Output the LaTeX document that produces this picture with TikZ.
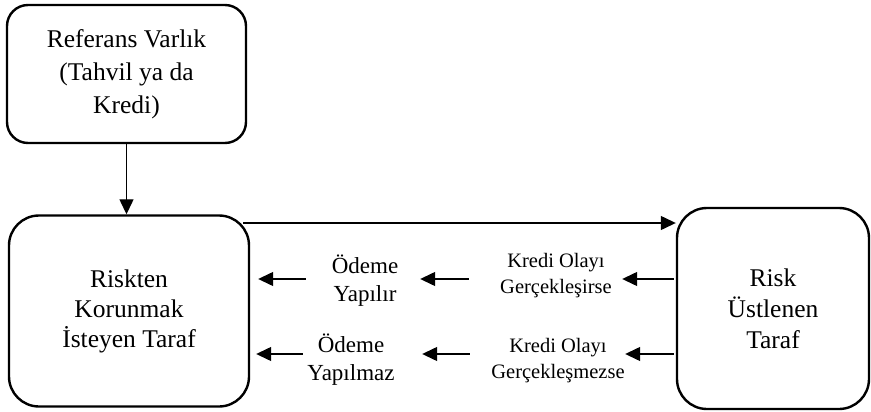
\documentclass[tikz,border=0pt]{standalone}
\usepackage{fontspec}
\setmainfont{Liberation Serif}
\usetikzlibrary{arrows.meta}

\begin{document}
\begin{tikzpicture}[x=1pt, y=-1pt,
        box/.style={draw, line width=2.4pt, rounded corners=30pt, align=center, inner sep=0pt},
        lbl/.style={align=center, inner sep=0pt},
        flow/.style={-{Triangle[length=15pt, width=14pt]}, line width=1.3pt}]
        \useasboundingbox (0,0) rectangle (871,412);

        % Boxes
        \node (tbox) at (126.5,74) [box, rounded corners=21pt, minimum width=239pt, minimum height=138pt,
            font=\fontsize{25.5}{33}\selectfont] {Referans Varlık\\(Tahvil ya da\\Kredi)};
        \node (lbox) at (129,311) [box, minimum width=240pt, minimum height=191pt,
            font=\fontsize{25.5}{30}\selectfont] {Riskten\\Korunmak\\İsteyen Taraf};
        \node (rbox) at (773,308.5) [box, minimum width=192pt, minimum height=201pt,
            font=\fontsize{25.5}{31}\selectfont] {Risk\\Üstlenen\\Taraf};

        % Labels between the parties
        \node (kredi1) at (556,276) [lbl, minimum width=136pt, font=\fontsize{20.5}{26}\selectfont] {Kredi Olayı\\Gerçekleşirse};
        \node (kredi2) at (558,361) [lbl, minimum width=136pt, font=\fontsize{20.5}{26}\selectfont] {Kredi Olayı\\Gerçekleşmezse};
        \node (odeme1) at (365,281) [lbl, minimum width=90pt, font=\fontsize{23}{28}\selectfont] {Ödeme\\Yapılır};
        \node (odeme2) at (351,360) [lbl, minimum width=90pt, font=\fontsize{23}{28}\selectfont] {Ödeme\\Yapılmaz};

        % Arrow rows
        \coordinate (row0) at (0,223);
        \coordinate (row1) at (0,279);
        \coordinate (row2) at (0,354);

        \draw[flow] (tbox.south) -- (tbox.south |- lbox.north);
        \draw[flow] ([xshift=-7pt]lbox.east |- row0) -- (rbox.west |- row0);

        \draw[flow, shorten <=2pt, shorten >=-2pt] (rbox.west |- row1) -- (kredi1.east |- row1);
        \draw[flow, shorten <=19pt, shorten >=10pt] (kredi1.west |- row1) -- (odeme1.east |- row1);
        \draw[flow, shorten <=14pt, shorten >=8pt] (odeme1.west |- row1) -- (lbox.east |- row1);

        \draw[flow, shorten <=2pt, shorten >=-1pt] (rbox.west |- row2) -- (kredi2.east |- row2);
        \draw[flow, shorten <=20pt, shorten >=26pt] (kredi2.west |- row2) -- (odeme2.east |- row2);
        \draw[flow, shorten <=3pt, shorten >=6pt] (odeme2.west |- row2) -- (lbox.east |- row2);
\end{tikzpicture}
\end{document}
